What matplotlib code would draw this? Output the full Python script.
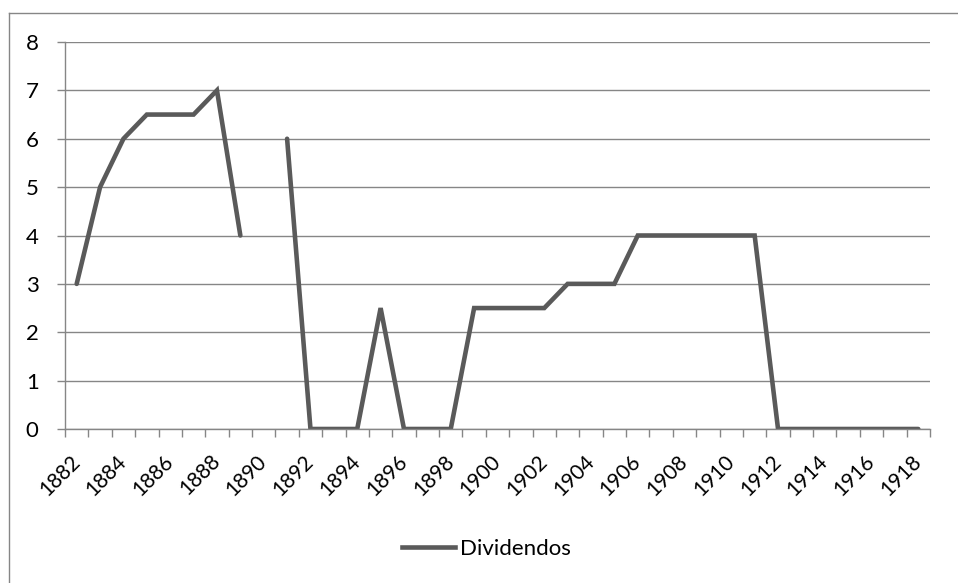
import numpy as np
import matplotlib.pyplot as plt
from matplotlib.lines import Line2D

plt.rcParams['font.family'] = ['Lato', 'DejaVu Sans']

# dados
anos = list(range(1882, 1919))
dividendos = [3, 5, 6, 6.5, 6.5, 6.5, 7, 4, np.nan, 6,
              0, 0, 0, 2.5, 0, 0, 0, 2.5, 2.5, 2.5,
              2.5, 3, 3, 3, 4, 4, 4, 4, 4, 4,
              0, 0, 0, 0, 0, 0, 0]
rotulos_x = [str(a) for a in anos[::2]]

cinza = '#5a5a5a'
cinza_eixo = '#868686'

fig = plt.figure(figsize=(9.58, 5.83), dpi=100)
ax = fig.add_axes([65/958, 154/583, 865/958, 387/583])

x = np.arange(len(anos))
ax.plot(x, dividendos, color=cinza, lw=3.3, solid_capstyle='round', solid_joinstyle='miter', label='Dividendos')

# eixos
ax.set_xlim(-0.5, len(anos) - 0.5)
ax.set_ylim(0, 8)
ax.set_yticks(range(0, 9))
ax.grid(axis='y', color=cinza_eixo, lw=1)
ax.set_axisbelow(True)
for s in ['top', 'right']:
    ax.spines[s].set_visible(False)
ax.spines['left'].set_color(cinza_eixo)
ax.spines['bottom'].set_color(cinza_eixo)
ax.spines['left'].set_linewidth(1)
ax.spines['bottom'].set_linewidth(1)

ax.set_xticks(x[::2])
ax.set_xticklabels(rotulos_x, rotation=45, ha='right', va='center', rotation_mode='anchor')
ax.set_xticks(np.arange(-0.5, len(anos)), minor=True)
ax.tick_params(axis='x', which='major', length=0, pad=21, labelsize=15)
ax.tick_params(axis='x', which='minor', length=5.5, color=cinza_eixo, width=1)
ax.tick_params(axis='y', length=6, color=cinza_eixo, width=1, labelsize=16, pad=13)

# legenda
fig.legend(handles=[Line2D([], [], color=cinza, lw=3.3)], labels=['Dividendos'],
           loc='center left', bbox_to_anchor=(382/958, 1 - 549/583), frameon=False,
           fontsize=16, handlelength=2.4, handletextpad=0.2)

# moldura
fig.add_artist(Line2D([9/958, 9/958], [0, 1 - 13/583], color=cinza_eixo, lw=1))
fig.add_artist(Line2D([9/958, 1], [1 - 13/583, 1 - 13/583], color=cinza_eixo, lw=1))

fig.savefig('out.png', dpi=100)
